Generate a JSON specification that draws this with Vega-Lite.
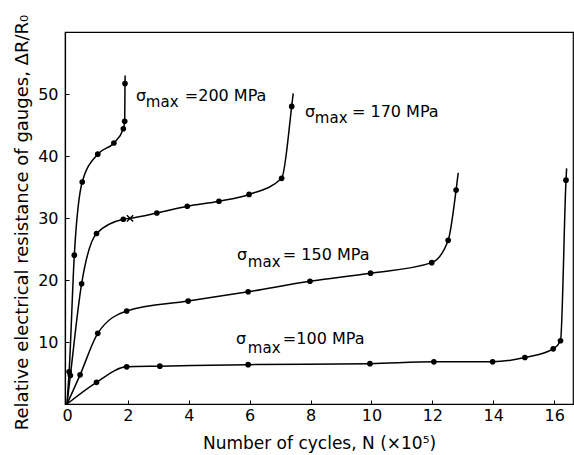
{
  "$schema": "https://vega.github.io/schema/vega-lite/v6.json",
  "width": 508,
  "height": 372,
  "autosize": {"type": "none"},
  "padding": {"left": 65, "top": 32, "right": 1, "bottom": 51},
  "background": "white",
  "config": {
    "font": "DejaVu Sans",
    "view": {"stroke": "black", "strokeWidth": 1.2},
    "axis": {
      "domainColor": "black",
      "domainWidth": 1.2,
      "tickColor": "black",
      "tickSize": -4,
      "labelColor": "black",
      "titleColor": "black",
      "labelFontSize": 16,
      "titleFontSize": 17,
      "titleFontWeight": "normal",
      "grid": false
    }
  },
  "datasets": {
    "curves": [
      {"s": "200", "i": 0, "x": 0, "y": 0, "pt": 0},
      {"s": "200", "i": 1, "x": 0.07, "y": 5.2, "pt": 1},
      {"s": "200", "i": 2, "x": 0.24, "y": 24.0, "pt": 1},
      {"s": "200", "i": 3, "x": 0.5, "y": 35.8, "pt": 1},
      {"s": "200", "i": 4, "x": 1.01, "y": 40.3, "pt": 1},
      {"s": "200", "i": 5, "x": 1.54, "y": 42.1, "pt": 1},
      {"s": "200", "i": 6, "x": 1.85, "y": 44.4, "pt": 1},
      {"s": "200", "i": 7, "x": 1.895, "y": 45.6, "pt": 1},
      {"s": "200", "i": 8, "x": 1.905, "y": 51.7, "pt": 1},
      {"s": "200", "i": 9, "x": 1.91, "y": 53.0, "pt": 0},
      {"s": "170", "i": 0, "x": 0, "y": 0, "pt": 0},
      {"s": "170", "i": 1, "x": 0.11, "y": 4.6, "pt": 1},
      {"s": "170", "i": 2, "x": 0.48, "y": 19.4, "pt": 1},
      {"s": "170", "i": 3, "x": 0.97, "y": 27.5, "pt": 1},
      {"s": "170", "i": 4, "x": 1.85, "y": 29.8, "pt": 1},
      {"s": "170", "i": 5, "x": 2.07, "y": 29.95, "pt": 0},
      {"s": "170", "i": 6, "x": 2.95, "y": 30.8, "pt": 1},
      {"s": "170", "i": 7, "x": 3.95, "y": 31.9, "pt": 1},
      {"s": "170", "i": 8, "x": 4.99, "y": 32.7, "pt": 1},
      {"s": "170", "i": 9, "x": 5.98, "y": 33.8, "pt": 1},
      {"s": "170", "i": 10, "x": 7.05, "y": 36.4, "pt": 1},
      {"s": "170", "i": 11, "x": 7.38, "y": 48.0, "pt": 1},
      {"s": "170", "i": 12, "x": 7.43, "y": 50.1, "pt": 0},
      {"s": "150", "i": 0, "x": 0, "y": 0, "pt": 0},
      {"s": "150", "i": 1, "x": 0.43, "y": 4.7, "pt": 1},
      {"s": "150", "i": 2, "x": 1.01, "y": 11.4, "pt": 1},
      {"s": "150", "i": 3, "x": 1.96, "y": 15.0, "pt": 1},
      {"s": "150", "i": 4, "x": 3.98, "y": 16.6, "pt": 1},
      {"s": "150", "i": 5, "x": 5.95, "y": 18.1, "pt": 1},
      {"s": "150", "i": 6, "x": 7.98, "y": 19.8, "pt": 1},
      {"s": "150", "i": 7, "x": 9.97, "y": 21.1, "pt": 1},
      {"s": "150", "i": 8, "x": 11.98, "y": 22.8, "pt": 1},
      {"s": "150", "i": 9, "x": 12.52, "y": 26.4, "pt": 1},
      {"s": "150", "i": 10, "x": 12.78, "y": 34.5, "pt": 1},
      {"s": "150", "i": 11, "x": 12.85, "y": 37.3, "pt": 0},
      {"s": "100", "i": 0, "x": 0, "y": 0, "pt": 0},
      {"s": "100", "i": 1, "x": 0.97, "y": 3.5, "pt": 1},
      {"s": "100", "i": 2, "x": 1.96, "y": 6.0, "pt": 1},
      {"s": "100", "i": 3, "x": 3.05, "y": 6.1, "pt": 1},
      {"s": "100", "i": 4, "x": 5.95, "y": 6.35, "pt": 1},
      {"s": "100", "i": 5, "x": 9.95, "y": 6.5, "pt": 1},
      {"s": "100", "i": 6, "x": 12.05, "y": 6.8, "pt": 1},
      {"s": "100", "i": 7, "x": 13.98, "y": 6.8, "pt": 1},
      {"s": "100", "i": 8, "x": 15.04, "y": 7.5, "pt": 1},
      {"s": "100", "i": 9, "x": 15.97, "y": 8.9, "pt": 1},
      {"s": "100", "i": 10, "x": 16.21, "y": 10.2, "pt": 1},
      {"s": "100", "i": 11, "x": 16.39, "y": 36.1, "pt": 1},
      {"s": "100", "i": 12, "x": 16.41, "y": 38.0, "pt": 0}
    ],
    "cross": [
      {"x": 2.07, "y": 29.95}
    ],
    "labels": [
      {"k": "big", "x": 2.27, "y": 48.82, "t": "σ"},
      {"k": "sub", "x": 2.59, "y": 47.85, "t": "max"},
      {"k": "big", "x": 3.87, "y": 48.82, "t": "=200 MPa"},
      {"k": "big", "x": 7.82, "y": 46.24, "t": "σ"},
      {"k": "sub", "x": 8.14, "y": 45.27, "t": "max"},
      {"k": "big", "x": 9.36, "y": 46.24, "t": "= 170 MPa"},
      {"k": "big", "x": 5.58, "y": 23.18, "t": "σ"},
      {"k": "sub", "x": 5.94, "y": 22.13, "t": "max"},
      {"k": "big", "x": 7.09, "y": 23.18, "t": "= 150 MPa"},
      {"k": "big", "x": 5.55, "y": 9.63, "t": "σ"},
      {"k": "sub", "x": 5.94, "y": 8.18, "t": "max"},
      {"k": "big", "x": 7.09, "y": 9.63, "t": "=100 MPa"}
    ]
  },
  "encoding": {
    "x": {
      "field": "x",
      "type": "quantitative",
      "scale": {"domain": [-0.066, 16.62], "nice": false, "zero": false},
      "axis": {
        "values": [0, 2, 4, 6, 8, 10, 12, 14, 16],
        "title": "Number of cycles, N (×10⁵)",
        "labelPadding": 7,
        "titlePadding": 12
      }
    },
    "y": {
      "field": "y",
      "type": "quantitative",
      "scale": {"domain": [0, 60], "nice": false, "zero": false},
      "axis": {
        "values": [10, 20, 30, 40, 50],
        "title": "Relative electrical resistance of gauges, ΔR/R₀",
        "titleFontSize": 18,
        "labelPadding": 11,
        "titlePadding": 6,
        "titleY": 190
      }
    }
  },
  "layer": [
    {
      "data": {"name": "curves"},
      "mark": {"type": "line", "color": "black", "strokeWidth": 1.5, "interpolate": "monotone"},
      "encoding": {
        "detail": {"field": "s"},
        "order": {"field": "i", "type": "quantitative"}
      }
    },
    {
      "data": {"name": "curves"},
      "transform": [{"filter": "datum.pt == 1"}],
      "mark": {"type": "point", "filled": true, "color": "black", "size": 32, "opacity": 1}
    },
    {
      "data": {"name": "cross"},
      "mark": {"type": "point", "shape": "M -1 -1 L 1 1 M -1 1 L 1 -1", "filled": false, "color": "black", "strokeWidth": 1.4, "size": 40, "opacity": 1}
    },
    {
      "data": {"name": "labels"},
      "transform": [{"filter": "datum.k == 'big'"}],
      "mark": {"type": "text", "align": "left", "baseline": "alphabetic", "fontSize": 16, "color": "black"},
      "encoding": {"text": {"field": "t"}}
    },
    {
      "data": {"name": "labels"},
      "transform": [{"filter": "datum.k == 'sub'"}],
      "mark": {"type": "text", "align": "left", "baseline": "alphabetic", "fontSize": 15, "color": "black"},
      "encoding": {"text": {"field": "t"}}
    }
  ]
}
